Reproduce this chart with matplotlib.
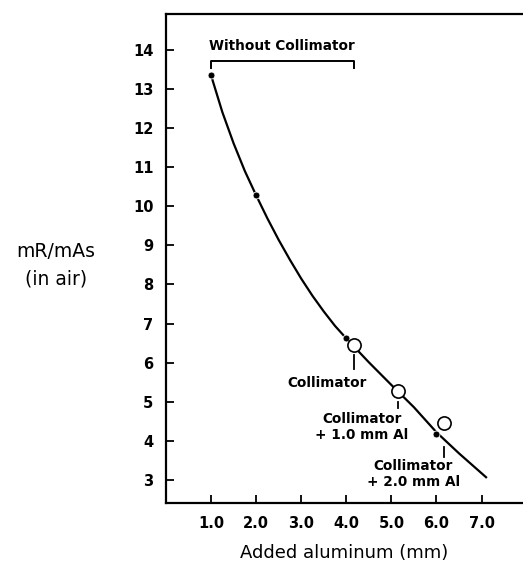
import matplotlib.pyplot as plt

# curve
curve_x = [1.0, 1.25, 1.5, 1.75, 2.0, 2.25, 2.5, 2.75, 3.0, 3.25, 3.5, 3.75, 4.0,
           4.5, 5.0, 5.5, 6.0, 6.5, 7.1]
curve_y = [13.35, 12.41, 11.61, 10.9, 10.28, 9.69, 9.14, 8.63, 8.15, 7.71, 7.31,
           6.94, 6.62, 6.01, 5.43, 4.86, 4.22, 3.68, 3.07]

# measured points without collimator (filled dots)
dots_x = [1.0, 2.0, 4.0, 6.0]
dots_y = [13.35, 10.28, 6.64, 4.17]

# measured points with collimator (open circles)
open_x = [4.18, 5.15, 6.16]
open_y = [6.44, 5.28, 4.45]
open_labels = ["Collimator", "Collimator\n+ 1.0 mm Al", "Collimator\n+ 2.0 mm Al"]

x_ticks = [1, 2, 3, 4, 5, 6, 7]
y_ticks = list(range(3, 15))

bold = dict(family="DejaVu Sans", fontweight="bold", fontsize=9.8)

fig = plt.figure(figsize=(5.23, 5.63), dpi=100)
ax = fig.add_axes([166 / 523, 60 / 563, 1 - 166 / 523, 489 / 563])

ax.plot(curve_x, curve_y, color="black", lw=1.6, zorder=2)
ax.plot(dots_x, dots_y, "o", ms=5, color="black", mec="white", mew=0.6, zorder=3)
ax.plot(open_x, open_y, "o", ms=9.5, mfc="white", mec="black", mew=1.2, zorder=4)

# leader ticks and labels under the open circles
leader = [(6.19, 5.83), (4.99, 4.84), (3.84, 3.59)]
label_pos = [(3.58, 5.66), (4.34, 4.74), (5.49, 3.53)]
for x, (y0, y1), (lx, ly), txt in zip(open_x, leader, label_pos, open_labels):
    ax.plot([x, x], [y0, y1], color="black", lw=1.3)
    ax.text(lx, ly, txt, ha="center", va="top", linespacing=1.2, **bold)

# bracket over the "without collimator" range
ax.plot([1.0, 1.0, 4.17, 4.17], [13.54, 13.71, 13.71, 13.54], color="black", lw=1.4)
ax.text(2.58, 14.1, "Without Collimator", ha="center", va="center", **bold)

ax.set_xlim(0, 7.92)
ax.set_ylim(2.41, 14.92)
ax.set_xticks(x_ticks)
ax.set_xticklabels([f"{v:.1f}" for v in x_ticks])
ax.set_yticks(y_ticks)
ax.tick_params(direction="in", length=6, width=1.3, labelsize=10.5, pad=9)
for lab in ax.get_xticklabels() + ax.get_yticklabels():
    lab.set_fontweight("bold")

ax.spines["right"].set_visible(False)
for s in ["left", "top", "bottom"]:
    ax.spines[s].set_linewidth(1.6)

ax.set_xlabel("Added aluminum (mm)", fontsize=13, labelpad=10)
fig.text(56 / 523, 1 - 252 / 563, "mR/mAs", ha="center", va="center", fontsize=13.5)
fig.text(56 / 523, 1 - 279 / 563, "(in air)", ha="center", va="center", fontsize=13.5)

fig.savefig("out.png", dpi=100)
